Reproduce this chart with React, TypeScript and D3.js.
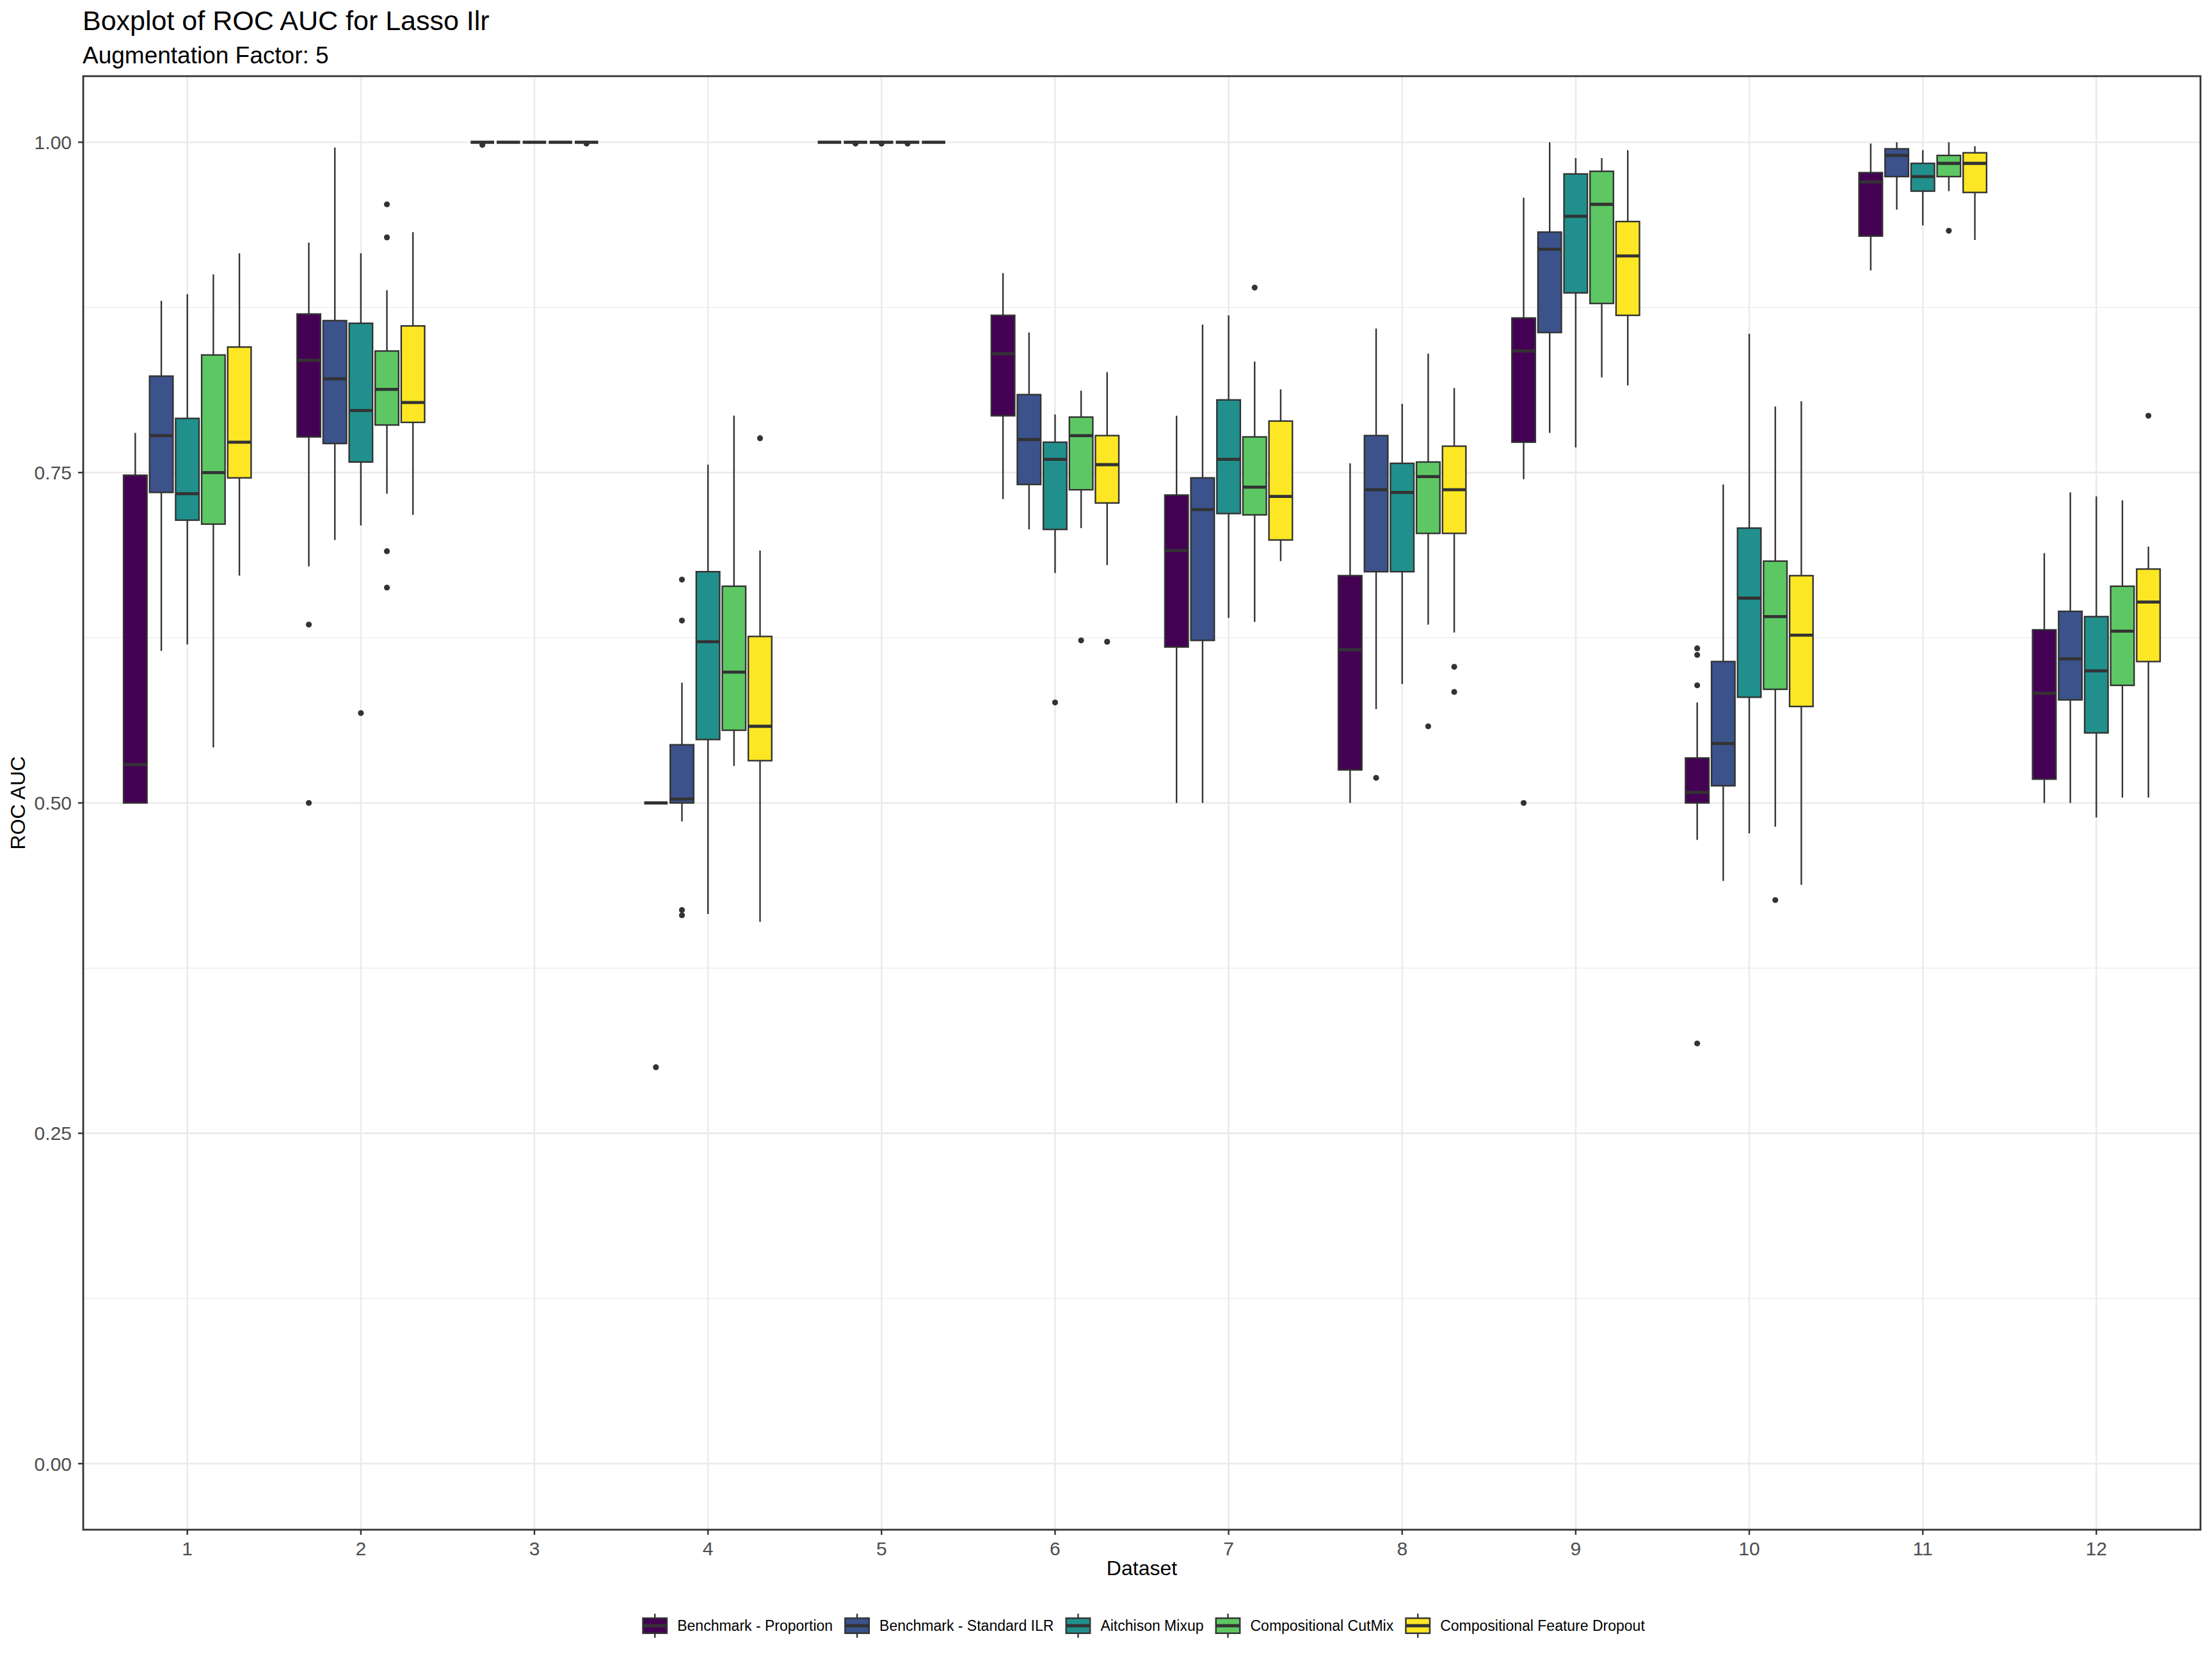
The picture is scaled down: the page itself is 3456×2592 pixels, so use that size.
import React, { useEffect, useRef } from 'react';
import * as d3 from 'd3';

const datasets = ['1', '2', '3', '4', '5', '6', '7', '8', '9', '10', '11', '12'];
const methods = [
  'Benchmark - Proportion',
  'Benchmark - Standard ILR',
  'Aitchison Mixup',
  'Compositional CutMix',
  'Compositional Feature Dropout',
];
const methodColors = ['#440154', '#3B528B', '#21908C', '#5DC863', '#FDE725'];

// one row per dataset, one column per method (same order as methods)
const lowerWhisker = [
  [0.500, 0.615, 0.620, 0.542, 0.672],
  [0.679, 0.699, 0.710, 0.734, 0.718],
  [1, 1, 1, 1, 1],
  [0.500, 0.486, 0.416, 0.528, 0.410],
  [1, 1, 1, 1, 1],
  [0.730, 0.707, 0.674, 0.708, 0.680],
  [0.500, 0.500, 0.640, 0.637, 0.683],
  [0.500, 0.571, 0.590, 0.635, 0.629],
  [0.745, 0.780, 0.769, 0.822, 0.816],
  [0.472, 0.441, 0.477, 0.482, 0.438],
  [0.903, 0.949, 0.937, 0.963, 0.926],
  [0.500, 0.500, 0.489, 0.504, 0.504],
];
const q1 = [
  [0.500, 0.735, 0.714, 0.711, 0.746],
  [0.777, 0.772, 0.758, 0.786, 0.788],
  [1, 1, 1, 1, 1],
  [0.500, 0.500, 0.548, 0.555, 0.532],
  [1, 1, 1, 1, 1],
  [0.793, 0.741, 0.707, 0.737, 0.727],
  [0.618, 0.623, 0.719, 0.718, 0.699],
  [0.525, 0.675, 0.675, 0.704, 0.704],
  [0.773, 0.856, 0.886, 0.878, 0.869],
  [0.500, 0.513, 0.580, 0.586, 0.573],
  [0.929, 0.974, 0.963, 0.974, 0.962],
  [0.518, 0.578, 0.553, 0.589, 0.607],
];
const medians = [
  [0.529, 0.778, 0.734, 0.750, 0.773],
  [0.835, 0.821, 0.797, 0.813, 0.803],
  [1, 1, 1, 1, 1],
  [0.500, 0.503, 0.622, 0.599, 0.558],
  [1, 1, 1, 1, 1],
  [0.840, 0.775, 0.760, 0.778, 0.756],
  [0.691, 0.722, 0.760, 0.739, 0.732],
  [0.616, 0.737, 0.735, 0.747, 0.737],
  [0.842, 0.919, 0.944, 0.953, 0.914],
  [0.508, 0.545, 0.655, 0.641, 0.627],
  [0.970, 0.990, 0.974, 0.984, 0.984],
  [0.583, 0.609, 0.600, 0.630, 0.652],
];
const q3 = [
  [0.748, 0.823, 0.791, 0.839, 0.845],
  [0.870, 0.865, 0.863, 0.842, 0.861],
  [1, 1, 1, 1, 1],
  [0.500, 0.544, 0.675, 0.664, 0.626],
  [1, 1, 1, 1, 1],
  [0.869, 0.809, 0.773, 0.792, 0.778],
  [0.733, 0.746, 0.805, 0.777, 0.789],
  [0.672, 0.778, 0.757, 0.758, 0.770],
  [0.867, 0.932, 0.976, 0.978, 0.940],
  [0.534, 0.607, 0.708, 0.683, 0.672],
  [0.977, 0.995, 0.984, 0.990, 0.992],
  [0.631, 0.645, 0.641, 0.664, 0.677],
];
const upperWhisker = [
  [0.780, 0.880, 0.885, 0.900, 0.916],
  [0.924, 0.996, 0.916, 0.888, 0.932],
  [1, 1, 1, 1, 1],
  [0.500, 0.591, 0.756, 0.793, 0.691],
  [1, 1, 1, 1, 1],
  [0.901, 0.856, 0.794, 0.812, 0.826],
  [0.793, 0.862, 0.869, 0.834, 0.813],
  [0.757, 0.859, 0.802, 0.840, 0.814],
  [0.958, 1.000, 0.988, 0.988, 0.994],
  [0.576, 0.741, 0.855, 0.800, 0.804],
  [0.999, 1.000, 0.994, 1.000, 0.997],
  [0.689, 0.735, 0.732, 0.729, 0.694],
];
// [dataset, method index, value]
const outliers: [string, number, number][] = [
  ['2', 0, 0.635], ['2', 0, 0.500], ['2', 2, 0.568],
  ['2', 3, 0.953], ['2', 3, 0.928], ['2', 3, 0.6905], ['2', 3, 0.663],
  ['3', 0, 0.998], ['3', 4, 0.999],
  ['4', 0, 0.300], ['4', 1, 0.669], ['4', 1, 0.638], ['4', 1, 0.419], ['4', 1, 0.415],
  ['4', 4, 0.776],
  ['5', 1, 0.999], ['5', 2, 0.999], ['5', 3, 0.999],
  ['6', 2, 0.576], ['6', 3, 0.623], ['6', 4, 0.622],
  ['7', 3, 0.890],
  ['8', 1, 0.519], ['8', 3, 0.558], ['8', 4, 0.603], ['8', 4, 0.584],
  ['9', 0, 0.500],
  ['10', 0, 0.617], ['10', 0, 0.612], ['10', 0, 0.589], ['10', 0, 0.318],
  ['10', 3, 0.4265],
  ['11', 3, 0.933],
  ['12', 4, 0.793],
];
const yTicks = [0, 0.25, 0.5, 0.75, 1];
const yMinorTicks = [0.125, 0.375, 0.625, 0.875];

const FONT = 'Liberation Sans, Arial, sans-serif';
const W = 3456;
const H = 2592;

const App: React.FC = () => {
  const ref = useRef<SVGSVGElement | null>(null);

  useEffect(() => {
    const svg = d3.select(ref.current);
    svg.selectAll('*').remove();

    const panel = { left: 130, right: 3438, top: 119, bottom: 2390 };
    const ink = '#333333';

    svg.append('rect').attr('width', W).attr('height', H).attr('fill', 'white');

    const x = d3.scaleBand<string>()
      .domain(datasets)
      .range([panel.left, panel.right])
      .paddingInner(0)
      .paddingOuter(0.1);
    const step = x.step();
    const inner = d3.scaleBand<string>()
      .domain(methods)
      .range([-0.375 * step, 0.375 * step])
      .paddingInner(0.1)
      .paddingOuter(0.05);
    const bw = inner.bandwidth();

    const y = d3.scaleLinear().domain([-0.05, 1.05]).range([panel.bottom, panel.top]);

    const cx = (d: string) => (x(d) as number) + step / 2;
    const mx = (d: string, k: number) => cx(d) + (inner(methods[k]) as number) + bw / 2;

    // grid
    yMinorTicks.forEach(t => {
      svg.append('line')
        .attr('x1', panel.left).attr('x2', panel.right)
        .attr('y1', y(t)).attr('y2', y(t))
        .attr('stroke', '#EBEBEB').attr('stroke-width', 1.3);
    });
    yTicks.forEach(t => {
      svg.append('line')
        .attr('x1', panel.left).attr('x2', panel.right)
        .attr('y1', y(t)).attr('y2', y(t))
        .attr('stroke', '#EBEBEB').attr('stroke-width', 2.6);
    });
    datasets.forEach(d => {
      svg.append('line')
        .attr('x1', cx(d)).attr('x2', cx(d))
        .attr('y1', panel.top).attr('y2', panel.bottom)
        .attr('stroke', '#EBEBEB').attr('stroke-width', 2.6);
    });

    // boxes
    datasets.forEach((d, i) => {
      methods.forEach((m, k) => {
        const xc = mx(d, k);
        const g = svg.append('g');
        g.append('line')
          .attr('x1', xc).attr('x2', xc)
          .attr('y1', y(upperWhisker[i][k])).attr('y2', y(q3[i][k]))
          .attr('stroke', ink).attr('stroke-width', 2.4);
        g.append('line')
          .attr('x1', xc).attr('x2', xc)
          .attr('y1', y(q1[i][k])).attr('y2', y(lowerWhisker[i][k]))
          .attr('stroke', ink).attr('stroke-width', 2.4);
        g.append('rect')
          .attr('x', xc - bw / 2)
          .attr('y', y(q3[i][k]))
          .attr('width', bw)
          .attr('height', Math.max(0, y(q1[i][k]) - y(q3[i][k])))
          .attr('fill', methodColors[k])
          .attr('stroke', ink).attr('stroke-width', 2.4);
        g.append('line')
          .attr('x1', xc - bw / 2).attr('x2', xc + bw / 2)
          .attr('y1', y(medians[i][k])).attr('y2', y(medians[i][k]))
          .attr('stroke', ink).attr('stroke-width', 4.8);
      });
    });

    svg.selectAll('.outlier')
      .data(outliers)
      .enter().append('circle')
      .attr('class', 'outlier')
      .attr('cx', d => mx(d[0], d[1]))
      .attr('cy', d => y(d[2]))
      .attr('r', 4.6)
      .attr('fill', ink);

    // panel border
    svg.append('rect')
      .attr('x', panel.left).attr('y', panel.top)
      .attr('width', panel.right - panel.left).attr('height', panel.bottom - panel.top)
      .attr('fill', 'none').attr('stroke', ink).attr('stroke-width', 2.8);

    // axes ticks + labels
    yTicks.forEach(t => {
      svg.append('line')
        .attr('x1', panel.left - 8).attr('x2', panel.left)
        .attr('y1', y(t)).attr('y2', y(t))
        .attr('stroke', ink).attr('stroke-width', 2.4);
      svg.append('text')
        .attr('x', panel.left - 18).attr('y', y(t))
        .attr('dy', '0.36em')
        .attr('text-anchor', 'end')
        .style('font-family', FONT).style('font-size', '30px')
        .attr('fill', '#4D4D4D')
        .text(d3.format('.2f')(t));
    });
    datasets.forEach(d => {
      svg.append('line')
        .attr('x1', cx(d)).attr('x2', cx(d))
        .attr('y1', panel.bottom).attr('y2', panel.bottom + 8)
        .attr('stroke', ink).attr('stroke-width', 2.4);
      svg.append('text')
        .attr('x', cx(d)).attr('y', 2430)
        .attr('text-anchor', 'middle')
        .style('font-family', FONT).style('font-size', '30px')
        .attr('fill', '#4D4D4D')
        .text(d);
    });

    svg.append('text')
      .attr('x', (panel.left + panel.right) / 2).attr('y', 2461)
      .attr('text-anchor', 'middle')
      .style('font-family', FONT).style('font-size', '32px')
      .attr('fill', 'black')
      .text('Dataset');
    svg.append('text')
      .attr('transform', `translate(39,${(panel.top + panel.bottom) / 2}) rotate(-90)`)
      .attr('text-anchor', 'middle')
      .style('font-family', FONT).style('font-size', '32px')
      .attr('fill', 'black')
      .text('ROC AUC');

    // titles
    svg.append('text')
      .attr('x', 129).attr('y', 47)
      .style('font-family', FONT).style('font-size', '43px')
      .attr('fill', 'black')
      .text('Boxplot of ROC AUC for Lasso Ilr');
    svg.append('text')
      .attr('x', 129).attr('y', 99)
      .style('font-family', FONT).style('font-size', '37px')
      .attr('fill', 'black')
      .text('Augmentation Factor: 5');

    // legend
    const keyW = 50;
    const keyH = 47;
    const textGap = 10;
    const itemGap = 13;
    const legendY = 2540;
    const legend = svg.append('g');
    let cursor = 0;
    methods.forEach((m, k) => {
      const item = legend.append('g').attr('transform', `translate(${cursor},0)`);
      const kx = keyW / 2;
      item.append('line')
        .attr('x1', kx).attr('x2', kx)
        .attr('y1', legendY - keyH * 0.4).attr('y2', legendY + keyH * 0.4)
        .attr('stroke', ink).attr('stroke-width', 2.4);
      item.append('rect')
        .attr('x', keyW * 0.125).attr('y', legendY - keyH * 0.25)
        .attr('width', keyW * 0.75).attr('height', keyH * 0.5)
        .attr('fill', methodColors[k])
        .attr('stroke', ink).attr('stroke-width', 2.4);
      item.append('line')
        .attr('x1', keyW * 0.125).attr('x2', keyW * 0.875)
        .attr('y1', legendY).attr('y2', legendY)
        .attr('stroke', ink).attr('stroke-width', 4.8);
      const label = item.append('text')
        .attr('x', keyW + textGap).attr('y', legendY)
        .attr('dy', '0.35em')
        .style('font-family', FONT).style('font-size', '23px')
        .attr('fill', 'black')
        .text(m);
      const tw = (label.node() as SVGTextElement).getComputedTextLength();
      cursor += keyW + textGap + tw + itemGap;
    });
    const legendWidth = cursor - itemGap;
    legend.attr('transform', `translate(${(panel.left + panel.right) / 2 - legendWidth / 2},0)`);
  }, []);

  return (
    <svg
      ref={ref}
      width={W}
      height={H}
      style={{ position: 'absolute', left: 0, top: 0, display: 'block' }}
    />
  );
};

export default App;
